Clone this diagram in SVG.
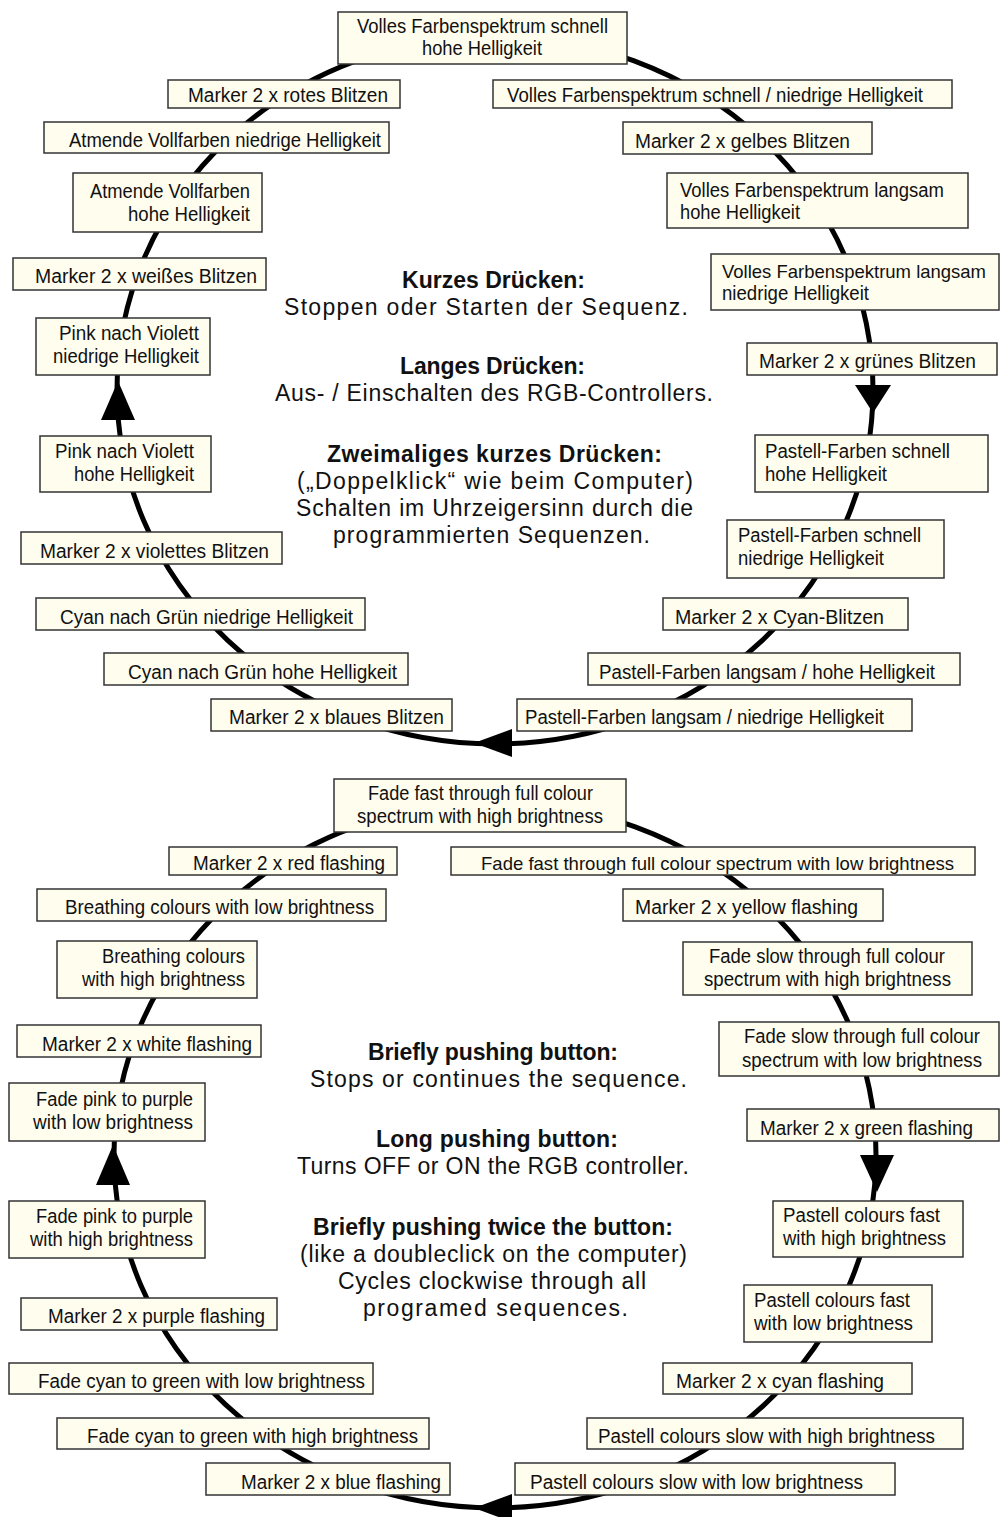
<svg xmlns="http://www.w3.org/2000/svg" width="1004" height="1517" viewBox="0 0 1004 1517">
<style>
.bx{fill:#fffdee;stroke:#333;stroke-width:1.5}
.t{font-family:"Liberation Sans",Arial,sans-serif;font-size:20px;fill:#111}
.s{font-size:19px}
.c{font-family:"Liberation Sans",Arial,sans-serif;font-size:23px;fill:#111}
.b{font-family:"Liberation Sans",Arial,sans-serif;font-size:23px;font-weight:bold;fill:#111}
.ring{fill:none;stroke:#000;stroke-width:5}
.ah{fill:#000}
</style>
<rect width="1004" height="1517" fill="#fff"/>
<g id="connectors">
<ellipse class="ring" cx="495" cy="390" rx="378" ry="354"/>
<polygon class="ah" points="118,381 101,420 135,420"/>
<polygon class="ah" points="873,413 855,385 891,385"/>
<polygon class="ah" points="474,743 512,729 512,757"/>
<ellipse class="ring" cx="495" cy="1155" rx="381" ry="353"/>
<polygon class="ah" points="113,1145 96,1185 130,1185"/>
<polygon class="ah" points="877,1192 860,1155 894,1155"/>
<polygon class="ah" points="474,1508 512,1494 512,1522"/>
</g>
<g id="de-top"><rect class="bx" x="338" y="12" width="289" height="52"/><text class="t" x="357" y="33" textLength="251" lengthAdjust="spacingAndGlyphs">Volles Farbenspektrum schnell</text><text class="t" x="422" y="55" textLength="120" lengthAdjust="spacingAndGlyphs">hohe Helligkeit</text></g>
<g id="de-l1"><rect class="bx" x="168" y="80" width="232" height="28"/><text class="t" x="188" y="102" textLength="200" lengthAdjust="spacingAndGlyphs">Marker 2 x rotes Blitzen</text></g>
<g id="de-l2"><rect class="bx" x="44" y="122" width="345" height="31"/><text class="t" x="69" y="147" textLength="312" lengthAdjust="spacingAndGlyphs">Atmende Vollfarben niedrige Helligkeit</text></g>
<g id="de-l3"><rect class="bx" x="73" y="173" width="189" height="59"/><text class="t" x="90" y="198" textLength="160" lengthAdjust="spacingAndGlyphs">Atmende Vollfarben</text><text class="t" x="128" y="221" textLength="122" lengthAdjust="spacingAndGlyphs">hohe Helligkeit</text></g>
<g id="de-l4"><rect class="bx" x="13" y="258" width="253" height="32"/><text class="t" x="35" y="283" textLength="222" lengthAdjust="spacingAndGlyphs">Marker 2 x weißes Blitzen</text></g>
<g id="de-l5"><rect class="bx" x="36" y="318" width="174" height="57"/><text class="t" x="59" y="340" textLength="140" lengthAdjust="spacingAndGlyphs">Pink nach Violett</text><text class="t" x="53" y="363" textLength="146" lengthAdjust="spacingAndGlyphs">niedrige Helligkeit</text></g>
<g id="de-l6"><rect class="bx" x="40" y="436" width="171" height="56"/><text class="t" x="55" y="458" textLength="139" lengthAdjust="spacingAndGlyphs">Pink nach Violett</text><text class="t" x="74" y="481" textLength="120" lengthAdjust="spacingAndGlyphs">hohe Helligkeit</text></g>
<g id="de-l7"><rect class="bx" x="21" y="532" width="261" height="32"/><text class="t" x="40" y="558" textLength="229" lengthAdjust="spacingAndGlyphs">Marker 2 x violettes Blitzen</text></g>
<g id="de-l8"><rect class="bx" x="36" y="598" width="329" height="32"/><text class="t" x="60" y="624" textLength="293" lengthAdjust="spacingAndGlyphs">Cyan nach Grün niedrige Helligkeit</text></g>
<g id="de-l9"><rect class="bx" x="104" y="653" width="304" height="32"/><text class="t" x="128" y="679" textLength="269" lengthAdjust="spacingAndGlyphs">Cyan nach Grün hohe Helligkeit</text></g>
<g id="de-l10"><rect class="bx" x="211" y="699" width="241" height="32"/><text class="t" x="229" y="724" textLength="215" lengthAdjust="spacingAndGlyphs">Marker 2 x blaues Blitzen</text></g>
<g id="de-r1"><rect class="bx" x="493" y="80" width="459" height="28"/><text class="t" x="507" y="102" textLength="416" lengthAdjust="spacingAndGlyphs">Volles Farbenspektrum schnell / niedrige Helligkeit</text></g>
<g id="de-r2"><rect class="bx" x="623" y="122" width="249" height="32"/><text class="t" x="635" y="148" textLength="215" lengthAdjust="spacingAndGlyphs">Marker 2 x gelbes Blitzen</text></g>
<g id="de-r3"><rect class="bx" x="667" y="173" width="301" height="55"/><text class="t" x="680" y="197" textLength="264" lengthAdjust="spacingAndGlyphs">Volles Farbenspektrum langsam</text><text class="t" x="680" y="219" textLength="120" lengthAdjust="spacingAndGlyphs">hohe Helligkeit</text></g>
<g id="de-r4"><rect class="bx" x="711" y="254" width="288" height="56"/><text class="t s" x="722" y="278" textLength="264" lengthAdjust="spacingAndGlyphs">Volles Farbenspektrum langsam</text><text class="t" x="722" y="300" textLength="147" lengthAdjust="spacingAndGlyphs">niedrige Helligkeit</text></g>
<g id="de-r5"><rect class="bx" x="747" y="343" width="250" height="32"/><text class="t" x="759" y="368" textLength="217" lengthAdjust="spacingAndGlyphs">Marker 2 x grünes Blitzen</text></g>
<g id="de-r6"><rect class="bx" x="755" y="435" width="233" height="57"/><text class="t" x="765" y="458" textLength="185" lengthAdjust="spacingAndGlyphs">Pastell-Farben schnell</text><text class="t" x="765" y="481" textLength="122" lengthAdjust="spacingAndGlyphs">hohe Helligkeit</text></g>
<g id="de-r7"><rect class="bx" x="727" y="520" width="217" height="58"/><text class="t" x="738" y="542" textLength="183" lengthAdjust="spacingAndGlyphs">Pastell-Farben schnell</text><text class="t" x="738" y="565" textLength="146" lengthAdjust="spacingAndGlyphs">niedrige Helligkeit</text></g>
<g id="de-r8"><rect class="bx" x="663" y="598" width="245" height="32"/><text class="t" x="675" y="624" textLength="209" lengthAdjust="spacingAndGlyphs">Marker 2 x Cyan-Blitzen</text></g>
<g id="de-r9"><rect class="bx" x="588" y="653" width="372" height="32"/><text class="t" x="599" y="679" textLength="336" lengthAdjust="spacingAndGlyphs">Pastell-Farben langsam / hohe Helligkeit</text></g>
<g id="de-r10"><rect class="bx" x="517" y="699" width="395" height="32"/><text class="t" x="525" y="724" textLength="359" lengthAdjust="spacingAndGlyphs">Pastell-Farben langsam / niedrige Helligkeit</text></g>
<g id="de-info">
<text class="b" x="402" y="288" textLength="183" lengthAdjust="spacing">Kurzes Drücken:</text>
<text class="c" x="284" y="315" textLength="404" lengthAdjust="spacing">Stoppen oder Starten der Sequenz.</text>
<text class="b" x="400" y="374" textLength="185" lengthAdjust="spacing">Langes Drücken:</text>
<text class="c" x="275" y="401" textLength="438" lengthAdjust="spacing">Aus- / Einschalten des RGB-Controllers.</text>
<text class="b" x="327" y="462" textLength="335" lengthAdjust="spacing">Zweimaliges kurzes Drücken:</text>
<text class="c" x="297" y="489" textLength="396" lengthAdjust="spacing">(„Doppelklick“ wie beim Computer)</text>
<text class="c" x="296" y="516" textLength="397" lengthAdjust="spacing">Schalten im Uhrzeigersinn durch die</text>
<text class="c" x="333" y="543" textLength="317" lengthAdjust="spacing">programmierten Sequenzen.</text>
</g>
<g id="en-top"><rect class="bx" x="334" y="779" width="292" height="53"/><text class="t" x="368" y="800" textLength="225" lengthAdjust="spacingAndGlyphs">Fade fast through full colour</text><text class="t" x="357" y="823" textLength="246" lengthAdjust="spacingAndGlyphs">spectrum with high brightness</text></g>
<g id="en-l1"><rect class="bx" x="169" y="847" width="228" height="28"/><text class="t" x="193" y="870" textLength="192" lengthAdjust="spacingAndGlyphs">Marker 2 x red flashing</text></g>
<g id="en-l2"><rect class="bx" x="37" y="889" width="349" height="32"/><text class="t" x="65" y="914" textLength="309" lengthAdjust="spacingAndGlyphs">Breathing colours with low brightness</text></g>
<g id="en-l3"><rect class="bx" x="57" y="941" width="200" height="57"/><text class="t" x="102" y="963" textLength="143" lengthAdjust="spacingAndGlyphs">Breathing colours</text><text class="t" x="82" y="986" textLength="163" lengthAdjust="spacingAndGlyphs">with high brightness</text></g>
<g id="en-l4"><rect class="bx" x="17" y="1025" width="244" height="32"/><text class="t" x="42" y="1051" textLength="210" lengthAdjust="spacingAndGlyphs">Marker 2 x white flashing</text></g>
<g id="en-l5"><rect class="bx" x="9" y="1083" width="196" height="58"/><text class="t" x="36" y="1106" textLength="157" lengthAdjust="spacingAndGlyphs">Fade pink to purple</text><text class="t" x="33" y="1129" textLength="160" lengthAdjust="spacingAndGlyphs">with low brightness</text></g>
<g id="en-l6"><rect class="bx" x="9" y="1201" width="196" height="57"/><text class="t" x="36" y="1223" textLength="157" lengthAdjust="spacingAndGlyphs">Fade pink to purple</text><text class="t" x="30" y="1246" textLength="163" lengthAdjust="spacingAndGlyphs">with high brightness</text></g>
<g id="en-l7"><rect class="bx" x="21" y="1298" width="256" height="32"/><text class="t" x="48" y="1323" textLength="217" lengthAdjust="spacingAndGlyphs">Marker 2 x purple flashing</text></g>
<g id="en-l8"><rect class="bx" x="9" y="1363" width="364" height="31"/><text class="t" x="38" y="1388" textLength="327" lengthAdjust="spacingAndGlyphs">Fade cyan to green with low brightness</text></g>
<g id="en-l9"><rect class="bx" x="57" y="1418" width="372" height="31"/><text class="t" x="87" y="1443" textLength="331" lengthAdjust="spacingAndGlyphs">Fade cyan to green with high brightness</text></g>
<g id="en-l10"><rect class="bx" x="206" y="1463" width="244" height="32"/><text class="t" x="241" y="1489" textLength="200" lengthAdjust="spacingAndGlyphs">Marker 2 x blue flashing</text></g>
<g id="en-r1"><rect class="bx" x="451" y="847" width="524" height="28"/><text class="t s" x="481" y="870" textLength="473" lengthAdjust="spacingAndGlyphs">Fade fast through full colour spectrum with low brightness</text></g>
<g id="en-r2"><rect class="bx" x="623" y="889" width="260" height="32"/><text class="t" x="635" y="914" textLength="223" lengthAdjust="spacingAndGlyphs">Marker 2 x yellow flashing</text></g>
<g id="en-r3"><rect class="bx" x="683" y="942" width="289" height="53"/><text class="t" x="709" y="963" textLength="236" lengthAdjust="spacingAndGlyphs">Fade slow through full colour</text><text class="t" x="704" y="986" textLength="247" lengthAdjust="spacingAndGlyphs">spectrum with high brightness</text></g>
<g id="en-r4"><rect class="bx" x="719" y="1022" width="280" height="54"/><text class="t" x="744" y="1043" textLength="236" lengthAdjust="spacingAndGlyphs">Fade slow through full colour</text><text class="t" x="742" y="1067" textLength="240" lengthAdjust="spacingAndGlyphs">spectrum with low brightness</text></g>
<g id="en-r5"><rect class="bx" x="747" y="1109" width="252" height="32"/><text class="t" x="760" y="1135" textLength="213" lengthAdjust="spacingAndGlyphs">Marker 2 x green flashing</text></g>
<g id="en-r6"><rect class="bx" x="773" y="1201" width="190" height="56"/><text class="t" x="783" y="1222" textLength="157" lengthAdjust="spacingAndGlyphs">Pastell colours fast</text><text class="t" x="783" y="1245" textLength="163" lengthAdjust="spacingAndGlyphs">with high brightness</text></g>
<g id="en-r7"><rect class="bx" x="744" y="1285" width="188" height="57"/><text class="t" x="754" y="1307" textLength="156" lengthAdjust="spacingAndGlyphs">Pastell colours fast</text><text class="t" x="754" y="1330" textLength="159" lengthAdjust="spacingAndGlyphs">with low brightness</text></g>
<g id="en-r8"><rect class="bx" x="663" y="1363" width="249" height="31"/><text class="t" x="676" y="1388" textLength="208" lengthAdjust="spacingAndGlyphs">Marker 2 x cyan flashing</text></g>
<g id="en-r9"><rect class="bx" x="587" y="1418" width="376" height="31"/><text class="t" x="598" y="1443" textLength="337" lengthAdjust="spacingAndGlyphs">Pastell colours slow with high brightness</text></g>
<g id="en-r10"><rect class="bx" x="515" y="1463" width="380" height="32"/><text class="t" x="530" y="1489" textLength="333" lengthAdjust="spacingAndGlyphs">Pastell colours slow with low brightness</text></g>
<g id="en-info">
<text class="b" x="368" y="1060" textLength="250" lengthAdjust="spacing">Briefly pushing button:</text>
<text class="c" x="310" y="1087" textLength="377" lengthAdjust="spacing">Stops or continues the sequence.</text>
<text class="b" x="376" y="1147" textLength="242" lengthAdjust="spacing">Long pushing button:</text>
<text class="c" x="297" y="1174" textLength="392" lengthAdjust="spacing">Turns OFF or ON the RGB controller.</text>
<text class="b" x="313" y="1235" textLength="360" lengthAdjust="spacing">Briefly pushing twice the button:</text>
<text class="c" x="300" y="1262" textLength="387" lengthAdjust="spacing">(like a doubleclick on the computer)</text>
<text class="c" x="338" y="1289" textLength="308" lengthAdjust="spacing">Cycles clockwise through all</text>
<text class="c" x="363" y="1316" textLength="265" lengthAdjust="spacing">programed sequences.</text>
</g>
</svg>
